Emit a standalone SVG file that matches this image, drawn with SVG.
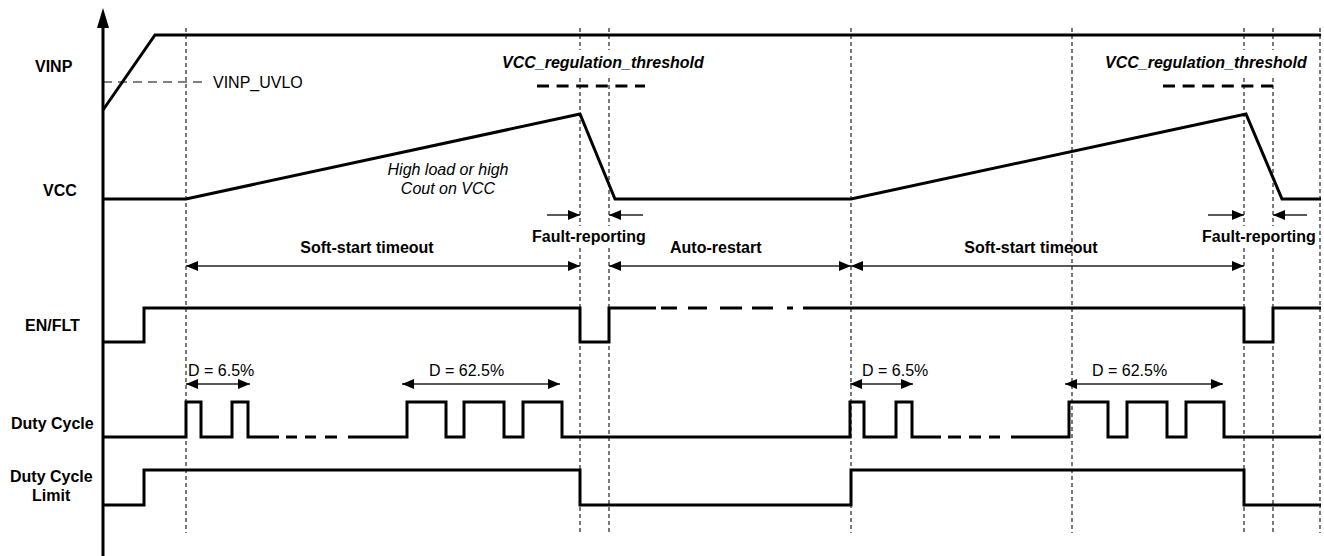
<svg xmlns="http://www.w3.org/2000/svg" width="1324" height="556" viewBox="0 0 1324 556">
<style>
text{font-family:"Liberation Sans",Arial,sans-serif;font-size:16px;fill:#000}
.b{font-weight:bold}
.i{font-style:italic}
.bi{font-weight:bold;font-style:italic}
.m{text-anchor:middle}
.wave{fill:none;stroke:#000;stroke-width:3;stroke-linejoin:miter;stroke-linecap:butt}
.vd{stroke:#222;stroke-width:1.2;stroke-dasharray:4,3;fill:none}
.thr{stroke:#000;stroke-width:3;stroke-dasharray:12,7.6;fill:none}
.dim{stroke:#222;stroke-width:1.3;fill:none}
</style>
<defs>
<marker id="ah" viewBox="0 0 12 10" refX="12" refY="5" markerWidth="13" markerHeight="10" markerUnits="userSpaceOnUse" orient="auto-start-reverse">
<path d="M0,0 L12,5 L0,10 z" fill="#000"/>
</marker>
</defs>
<rect width="1324" height="556" fill="#fff"/>

<g id="axis">
<line x1="103" y1="556" x2="103" y2="26" stroke="#000" stroke-width="3"/>
<polygon points="103,8 97,28 109,28" fill="#000"/>
</g>

<g id="connectors">
<!-- vertical dashed timing lines -->
<line class="vd" x1="186" y1="28" x2="186" y2="533"/>
<path class="vd" d="M580,28 V50 M580,78 V226 M580,248 V533"/>
<path class="vd" d="M609,28 V50 M609,78 V226 M609,248 V533"/>
<line class="vd" x1="851" y1="28" x2="851" y2="533"/>
<line class="vd" x1="1072" y1="28" x2="1072" y2="533"/>
<path class="vd" d="M1244,28 V50 M1244,78 V226 M1244,248 V533"/>
<path class="vd" d="M1273,28 V50 M1273,78 V226 M1273,248 V533"/>
<line class="vd" x1="1320" y1="28" x2="1320" y2="533"/>
<!-- fault-reporting arrows -->
<line class="dim" x1="547" y1="215" x2="580" y2="215" marker-end="url(#ah)"/>
<line class="dim" x1="643" y1="215" x2="609" y2="215" marker-end="url(#ah)"/>
<line class="dim" x1="1208" y1="215" x2="1244" y2="215" marker-end="url(#ah)"/>
<line class="dim" x1="1307" y1="215" x2="1273" y2="215" marker-end="url(#ah)"/>
<!-- interval arrows -->
<line class="dim" x1="186" y1="266" x2="580" y2="266" marker-start="url(#ah)" marker-end="url(#ah)"/>
<line class="dim" x1="609" y1="266" x2="851" y2="266" marker-start="url(#ah)" marker-end="url(#ah)"/>
<line class="dim" x1="851" y1="266" x2="1244" y2="266" marker-start="url(#ah)" marker-end="url(#ah)"/>
<!-- duty arrows -->
<line class="dim" x1="186" y1="384" x2="250" y2="384" marker-start="url(#ah)" marker-end="url(#ah)"/>
<line class="dim" x1="402" y1="384" x2="560" y2="384" marker-start="url(#ah)" marker-end="url(#ah)"/>
<line class="dim" x1="850" y1="384" x2="913" y2="384" marker-start="url(#ah)" marker-end="url(#ah)"/>
<line class="dim" x1="1065" y1="384" x2="1223" y2="384" marker-start="url(#ah)" marker-end="url(#ah)"/>
</g>

<g id="vinp">
<text class="b" x="35" y="72">VINP</text>
<polyline class="wave" points="103,110 155,35 1321,35"/>
<line x1="103" y1="82" x2="207" y2="82" stroke="#000" stroke-width="1" stroke-dasharray="9,6"/>
<text x="213" y="88">VINP_UVLO</text>
</g>

<g id="vcc">
<text class="b" x="43" y="196">VCC</text>
<polyline class="wave" points="103,199 186,199 580,114 615,199 851,199 1246,114 1282,199 1321,199"/>
<line class="thr" x1="537" y1="86" x2="645" y2="86"/>
<line class="thr" x1="1163" y1="86" x2="1273" y2="86"/>
<text class="bi" x="502" y="68">VCC_regulation_threshold</text>
<text class="bi" x="1105" y="68">VCC_regulation_threshold</text>
<text class="i m" x="448" y="175">High load or high</text>
<text class="i m" x="448" y="194">Cout on VCC</text>
</g>

<g id="intervals">
<text class="b" x="532" y="242">Fault-reporting</text>
<text class="b" x="1202" y="242">Fault-reporting</text>
<text class="b m" x="367" y="253">Soft-start timeout</text>
<text class="b" x="670" y="253">Auto-restart</text>
<text class="b m" x="1031" y="253">Soft-start timeout</text>
</g>

<g id="en-flt">
<text class="b" x="25" y="331">EN/FLT</text>
<polyline class="wave" points="103,342 144,342 144,308 580,308 580,342 609,342 609,308 656,308"/>
<path class="wave" d="M661,308 H677 M688,308 H707 M720,308 H742 M752,308 H773 M787,308 H793"/>
<polyline class="wave" points="803,308 1244,308 1244,342 1273,342 1273,308 1321,308"/>
</g>

<g id="duty-cycle">
<text class="b" x="11" y="429">Duty Cycle</text>
<polyline class="wave" points="103,437 186,437 186,402 201,402 201,437 232,437 232,402 248,402 248,437 279,437"/>
<path class="wave" d="M286,437 H297 M305,437 H316 M325,437 H337"/>
<polyline class="wave" points="348,437 407,437 407,402 446,402 446,437 464,437 464,402 504,402 504,437 523,437 523,402 562,402 562,437 850,437 850,402 864,402 864,437 896,437 896,402 912,402 912,437 941,437"/>
<path class="wave" d="M948,437 H961 M969,437 H981 M989,437 H1000"/>
<polyline class="wave" points="1011,437 1069,437 1069,402 1108,402 1108,437 1127,437 1127,402 1167,402 1167,437 1186,437 1186,402 1224,402 1224,437 1321,437"/>
<text x="188" y="376">D = 6.5%</text>
<text x="429" y="376">D = 62.5%</text>
<text x="862" y="376">D = 6.5%</text>
<text x="1092" y="376">D = 62.5%</text>
</g>

<g id="duty-cycle-limit">
<text class="b" x="10" y="482">Duty Cycle</text>
<text class="b" x="32" y="501">Limit</text>
<polyline class="wave" points="103,505 144,505 144,470 580,470 580,505 851,505 851,470 1244,470 1244,505 1321,505"/>
</g>
</svg>
